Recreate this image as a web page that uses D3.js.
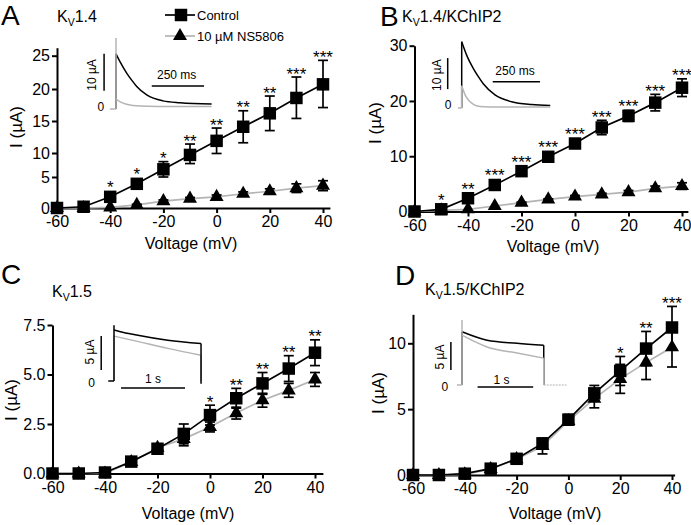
<!DOCTYPE html>
<html><head><meta charset="utf-8">
<script src="https://cdn.jsdelivr.net/npm/d3@7"></script>
<style>
body{margin:0;background:#fff}
svg{display:block;background:#fff}
text{font-family:"Liberation Sans",Arial,Helvetica,sans-serif;fill:#000}
</style>
</head><body>
<svg id="chart" width="691" height="525"></svg>
<script>
// ---------------- data ----------------
const voltages = [-60, -50, -40, -30, -20, -10, 0, 10, 20, 30, 40];
const xTickValues = [-60, -40, -20, 0, 20, 40];
const seriesNames = ["Control", "10 \u00B5M NS5806"];

// Panel A : Kv1.4
const aControl    = [0, 0.2, 1.8, 3.9, 6.6, 9.6, 11.9, 14.1, 16.2, 18.6, 20.7];
const aControlErr = [0, 0.1, 0.4, 0.5, 1.6, 1.8, 2.0, 2.5, 2.7, 3.2, 3.6];
const aNS         = [0, 0, 0.1, 0.5, 1.1, 1.5, 1.8, 2.3, 2.7, 3.2, 3.6];
const aNSErr      = [0, 0, 0, 0.1, 0.2, 0.2, 0.3, 0.3, 0.4, 0.7, 0.8];
const aStars      = ["", "", "*", "*", "*", "**", "**", "**", "**", "***", "***"];
const aYTicks     = [0, 5, 10, 15, 20, 25];

// Panel B : Kv1.4/KChIP2
const bControl    = [0, 0.4, 2.4, 4.8, 7.3, 9.9, 12.3, 15.2, 17.3, 19.7, 22.4];
const bControlErr = [0, 0.2, 0.4, 0.5, 0.4, 0.5, 0.6, 1.3, 1.0, 1.5, 1.6];
const bNS         = [0, 0.2, 0.4, 1.0, 1.6, 2.2, 2.7, 3.1, 3.5, 4.2, 4.6];
const bNSErr      = [0, 0, 0, 0, 0.1, 0.1, 0.2, 0.2, 0.3, 0.4, 0.6];
const bStars      = ["", "*", "**", "***", "***", "***", "***", "***", "***", "***", "***"];
const bYTicks     = [0, 10, 20, 30];

// Panel C : Kv1.5
const cControl    = [0, 0, 0.05, 0.6, 1.25, 2.0, 2.95, 3.8, 4.55, 5.3, 6.1];
const cControlErr = [0, 0, 0.1, 0.1, 0.2, 0.5, 0.5, 0.5, 0.55, 0.65, 0.65];
const cNS         = [0, 0, 0, 0.58, 1.3, 1.75, 2.35, 3.05, 3.7, 4.2, 4.75];
const cNSErr      = [0, 0, 0, 0.1, 0.15, 0.35, 0.25, 0.3, 0.35, 0.35, 0.35];
const cStars      = ["", "", "", "", "", "", "*", "**", "**", "**", "**"];
const cYTicks     = [0, 2.5, 5, 7.5];

// Panel D : Kv1.5/KChIP2
const dControl    = [0, 0, 0.1, 0.48, 1.23, 2.4, 4.2, 6.2, 7.9, 9.6, 11.2];
const dControlErr = [0, 0, 0.1, 0.1, 0.2, 0.3, 0.4, 0.6, 1.1, 1.3, 1.6];
const dNS         = [0, 0, 0.05, 0.45, 1.2, 2.2, 4.1, 5.8, 7.3, 8.55, 9.7];
const dNSErr      = [0, 0, 0, 0.1, 0.2, 0.6, 0.3, 0.7, 1.1, 1.3, 1.5];
const dStars      = ["", "", "", "", "", "", "", "", "*", "**", "***"];
const dYTicks     = [0, 5, 10];

// Inset traces (time, current in uA)
const insetABlackT = [0, 19, 51, 75, 99, 147, 225, 306, 457];
const insetABlackI = [14.9, 12.8, 9.7, 7.8, 6.1, 3.8, 2.2, 1.7, 1.35];
const insetAGrayT  = [0, 20, 50, 115, 200, 457];
const insetAGrayI  = [2.7, 1.9, 1.3, 0.8, 0.7, 0.7];

const insetBBlackT = [0, 30, 61, 88, 114, 176, 264, 370, 468];
const insetBBlackI = [21.4, 16.5, 12.8, 10.1, 7.8, 4.2, 2.0, 1.1, 0.8];
const insetBGrayT  = [0, 20, 44, 97, 200, 468];
const insetBGrayI  = [7.2, 4.0, 2.0, 0.5, 0.3, 0.3];

const insetCBlackT = [0, 0.1, 0.33, 0.84, 1.36];
const insetCBlackI = [7.5, 7.25, 6.8, 6.0, 5.5];
const insetCGrayT  = [0, 0.33, 0.84, 1.36];
const insetCGrayI  = [6.6, 5.9, 4.8, 3.8];

const insetDBlackT = [0, 0.45, 0.99, 1.47];
const insetDBlackI = [9.5, 8.0, 7.45, 7.1];
const insetDGrayT  = [0, 0.45, 0.99, 1.47];
const insetDGrayI  = [8.9, 6.8, 5.7, 4.8];

// ---------------- drawing ----------------
const FONT = '"Liberation Sans", Arial, Helvetica, sans-serif';
const GRAY = "#b4b4b4";
const svg = d3.select("#chart");
svg.append("rect").attr("width", 691).attr("height", 525).attr("fill", "#fff");

const sqSym = d3.symbol().type(d3.symbolSquare).size(156);
const triSym = d3.symbol().type(d3.symbolTriangle).size(85);

function title(g, x, y, main, rest) {
  const t = g.append("text").attr("x", x).attr("y", y).attr("font-size", 16);
  t.append("tspan").text(main);
  t.append("tspan").attr("font-size", 10.5).attr("dy", 4).text("V");
  t.append("tspan").attr("dy", -4).text(rest);
}

function panel(cfg) {
  const g = svg.append("g");
  const x = d3.scaleLinear().domain(cfg.xDomain).range(cfg.xRange);
  const y = d3.scaleLinear().domain(cfg.yDomain).range(cfg.yRange);

  g.append("text").attr("x", cfg.letterPos[0]).attr("y", cfg.letterPos[1])
    .attr("font-size", 28).text(cfg.letter);
  title(g, cfg.titlePos[0], cfg.titlePos[1], "K", cfg.titleRest);

  const xa = g.append("g").attr("transform", `translate(0,${y(0)})`)
    .call(d3.axisBottom(x).tickValues(xTickValues).tickFormat(d => String(d))
      .tickSize(5).tickSizeOuter(0).tickPadding(3));
  const ya = g.append("g").attr("transform", `translate(${x(-60)},0)`)
    .call(d3.axisLeft(y).tickValues(cfg.yTicks).tickFormat(cfg.yFormat)
      .tickSize(5).tickSizeOuter(0).tickPadding(2));
  [xa, ya].forEach(a => {
    a.attr("font-size", null).attr("font-family", null);
    a.selectAll("text").attr("font-size", 16).attr("font-family", FONT).attr("fill", "#000");
    a.selectAll("path,line").attr("stroke", "#000").attr("stroke-width", 2);
  });

  g.append("text").attr("x", cfg.xLabelPos[0]).attr("y", cfg.xLabelPos[1])
    .attr("text-anchor", "middle").attr("font-size", 16).text("Voltage (mV)");
  g.append("text").attr("transform", `translate(${cfg.yLabelPos[0]},${cfg.yLabelPos[1]}) rotate(-90)`)
    .attr("text-anchor", "middle").attr("dy", "0.35em").attr("font-size", 17).text("I (\u00B5A)");

  const ctrl = voltages.map((v, i) => ({v, val: cfg.control[i], err: cfg.controlErr[i], star: cfg.stars[i]}));
  const ns = voltages.map((v, i) => ({v, val: cfg.ns[i], err: cfg.nsErr[i]}));
  const line = d3.line().x(d => x(d.v)).y(d => y(d.val));

  g.append("path").datum(ns).attr("d", line).attr("fill", "none")
    .attr("stroke", GRAY).attr("stroke-width", 1.7);
  g.append("path").datum(ctrl).attr("d", line).attr("fill", "none")
    .attr("stroke", "#000").attr("stroke-width", 1.7);

  function errBars(data) {
    const eg = g.append("g").attr("stroke", "#000").attr("stroke-width", 1.7);
    data.filter(d => d.err > 0).forEach(d => {
      const cx = x(d.v), y1 = y(d.val + d.err), y2 = y(d.val - d.err);
      eg.append("line").attr("x1", cx).attr("x2", cx).attr("y1", y1).attr("y2", y2);
      eg.append("line").attr("x1", cx - 5).attr("x2", cx + 5).attr("y1", y1).attr("y2", y1);
      eg.append("line").attr("x1", cx - 5).attr("x2", cx + 5).attr("y1", y2).attr("y2", y2);
    });
  }
  function markers(data, sym) {
    g.append("g").selectAll("path").data(data).join("path")
      .attr("transform", d => `translate(${x(d.v)},${y(d.val)})`)
      .attr("d", sym).attr("fill", "#000");
  }
  errBars(ns); errBars(ctrl);
  if (cfg.controlOnTop) { markers(ns, triSym); markers(ctrl, sqSym); }
  else { markers(ctrl, sqSym); markers(ns, triSym); }

  g.append("g").selectAll("text").data(ctrl.filter(d => d.star)).join("text")
    .attr("x", d => x(d.v))
    .attr("y", d => Math.min(y(d.val + d.err), y(d.val) - 6) + 2.5)
    .attr("text-anchor", "middle").attr("font-size", 17).text(d => d.star);

  return {g, x, y};
}

function inset(cfg) {
  const g = svg.append("g");
  const x = d3.scaleLinear().domain([0, 1]).range([cfg.x0, cfg.x0 + cfg.kx]);
  const y = d3.scaleLinear().domain([0, 1]).range([cfg.y0, cfg.y0 - cfg.ky]);
  const lineGen = d3.line().curve(d3.curveMonotoneX).x(d => x(d[0])).y(d => y(d[1]));
  cfg.traces.forEach(tr => {
    const col = tr.color, sw = 1.5;
    const pts = tr.t.map((t, i) => [t, tr.i[i]]);
    if (tr.pre !== undefined)
      g.append("line").attr("x1", x(tr.pre)).attr("x2", x(0)).attr("y1", y(0)).attr("y2", y(0))
        .attr("stroke", col).attr("stroke-width", sw);
    g.append("line").attr("x1", x(0)).attr("x2", x(0)).attr("y1", y(0)).attr("y2", y(tr.spike))
      .attr("stroke", col).attr("stroke-width", sw);
    g.append("path").datum(pts).attr("d", lineGen).attr("fill", "none")
      .attr("stroke", col).attr("stroke-width", sw);
    const last = pts[pts.length - 1];
    if (tr.drop !== undefined)
      g.append("line").attr("x1", x(last[0])).attr("x2", x(last[0])).attr("y1", y(last[1])).attr("y2", y(tr.drop))
        .attr("stroke", col).attr("stroke-width", sw);
    if (tr.post !== undefined)
      g.append("line").attr("x1", x(last[0])).attr("x2", x(tr.post)).attr("y1", y(0)).attr("y2", y(0))
        .attr("stroke", col).attr("stroke-width", 1.2).attr("stroke-dasharray", "2,1");
  });
  g.append("line").attr("x1", x(cfg.vBar.t)).attr("x2", x(cfg.vBar.t))
    .attr("y1", y(cfg.vBar.i[0])).attr("y2", y(cfg.vBar.i[1])).attr("stroke", "#000").attr("stroke-width", 1.5);
  g.append("line").attr("x1", x(cfg.hBar.t[0])).attr("x2", x(cfg.hBar.t[1]))
    .attr("y1", y(cfg.hBar.i)).attr("y2", y(cfg.hBar.i)).attr("stroke", "#000").attr("stroke-width", 1.5);
  g.append("text").attr("transform", `translate(${x(cfg.vLabel.t)},${y(cfg.vLabel.i)}) rotate(-90)`)
    .attr("text-anchor", "middle").attr("dy", "0.35em").attr("font-size", 12).text(cfg.vLabel.text);
  g.append("text").attr("x", x(cfg.hLabel.t)).attr("y", y(cfg.hLabel.i))
    .attr("text-anchor", "middle").attr("font-size", 12).text(cfg.hLabel.text);
  g.append("text").attr("x", x(cfg.zero.t)).attr("y", y(cfg.zero.i))
    .attr("text-anchor", "middle").attr("dy", "0.35em").attr("font-size", 12).attr("fill", "#000").text("0");
}

// ---------------- panels ----------------
panel({
  letter: "A", letterPos: [1, 25], titlePos: [57, 22], titleRest: "1.4",
  xDomain: [-60, 42.6], xRange: [57, 57 + 102.6 * 2.66],
  yDomain: [0, 5, 10, 15, 20, 26.2], yRange: [208, 177, 153, 121, 89, 47.7],
  yTicks: aYTicks, yFormat: d => String(d),
  xLabelPos: [191, 249], yLabelPos: [16, 127],
  control: aControl, controlErr: aControlErr, ns: aNS, nsErr: aNSErr, stars: aStars,
  controlOnTop: false
});
panel({
  letter: "B", letterPos: [380, 26], titlePos: [402, 22], titleRest: "1.4/KChIP2",
  xDomain: [-60, 42.2], xRange: [414.5, 414.5 + 102.2 * 2.675],
  yDomain: [0, 30], yRange: [211.5, 45.7],
  yTicks: bYTicks, yFormat: d => String(d),
  xLabelPos: [553, 252], yLabelPos: [375, 123],
  control: bControl, controlErr: bControlErr, ns: bNS, nsErr: bNSErr, stars: bStars,
  controlOnTop: false
});
panel({
  letter: "C", letterPos: [1, 284], titlePos: [52, 297], titleRest: "1.5",
  xDomain: [-60, 43], xRange: [52.5, 52.5 + 103 * 2.625],
  yDomain: [0, 7.5], yRange: [473.5, 325],
  yTicks: cYTicks, yFormat: d3.format(".1f"),
  xLabelPos: [188, 519], yLabelPos: [11, 400],
  control: cControl, controlErr: cControlErr, ns: cNS, nsErr: cNSErr, stars: cStars,
  controlOnTop: true
});
panel({
  letter: "D", letterPos: [395, 285], titlePos: [425, 295], titleRest: "1.5/KChIP2",
  xDomain: [-60, 41], xRange: [413, 413 + 101 * 2.59],
  yDomain: [0, 12.2], yRange: [475, 475 - 12.2 * 13.17],
  yTicks: dYTicks, yFormat: d => String(d),
  xLabelPos: [555, 519], yLabelPos: [378, 393],
  control: dControl, controlErr: dControlErr, ns: dNS, nsErr: dNSErr, stars: dStars,
  controlOnTop: false
});

// legend (panel A)
const lg = svg.append("g");
[[15, "#000", sqSym, 181, seriesNames[0]], [36, GRAY, triSym, 180, seriesNames[1]]].forEach(([ly, col, sym, mx, label]) => {
  lg.append("line").attr("x1", 165).attr("x2", 195).attr("y1", ly).attr("y2", ly)
    .attr("stroke", col).attr("stroke-width", 1.7);
  lg.append("path").attr("transform", `translate(${mx},${ly})`).attr("d", sym).attr("fill", "#000");
  lg.append("text").attr("x", 197).attr("y", ly).attr("dy", "0.35em").attr("font-size", 13).text(label);
});

// ---------------- insets ----------------
inset({
  x0: 116, y0: 109, kx: 0.2092, ky: 3.7,
  traces: [
    {color: "#000", t: insetABlackT, i: insetABlackI, spike: 14.9},
    {color: GRAY, t: insetAGrayT, i: insetAGrayI, spike: 19.2, pre: -29}
  ],
  vBar: {t: -57, i: [4.9, 14.9]}, hBar: {t: [171, 421], i: 6.2},
  vLabel: {t: -117, i: 9.2, text: "10 \u00B5A"}, hLabel: {t: 290, i: 8.1, text: "250 ms"},
  zero: {t: -73, i: 0.5}
});
inset({
  x0: 461.7, y0: 108, kx: 0.1892, ky: 3.1,
  traces: [
    {color: "#000", t: insetBBlackT, i: insetBBlackI, spike: 21.4},
    {color: GRAY, t: insetBGrayT, i: insetBGrayI, spike: 7.2, pre: -20}
  ],
  vBar: {t: -74, i: [6.1, 16.1]}, hBar: {t: [164, 414], i: 8.5},
  vLabel: {t: -132, i: 10.6, text: "10 \u00B5A"}, hLabel: {t: 282, i: 10.6, text: "250 ms"},
  zero: {t: -72, i: 1.0}
});
inset({
  x0: 114, y0: 381, kx: 64, ky: 6.8,
  traces: [
    {color: GRAY, t: insetCGrayT, i: insetCGrayI, spike: 6.6, drop: 0},
    {color: "#000", t: insetCBlackT, i: insetCBlackI, spike: 8.2, pre: -0.09, drop: -0.4}
  ],
  vBar: {t: -0.2, i: [1.6, 6.6]}, hBar: {t: [0.11, 1.11], i: -1.03},
  vLabel: {t: -0.375, i: 4.26, text: "5 \u00B5A"}, hLabel: {t: 0.61, i: -0.3, text: "1 s"},
  zero: {t: -0.35, i: -0.3}
});
inset({
  x0: 462, y0: 385, kx: 55.6, ky: 5.6,
  traces: [
    {color: "#000", t: insetDBlackT, i: insetDBlackI, spike: 9.5, drop: 0},
    {color: GRAY, t: insetDGrayT, i: insetDGrayI, spike: 11.6, pre: -0.09, drop: 0, post: 1.88}
  ],
  vBar: {t: -0.2, i: [2.7, 7.7]}, hBar: {t: [0.28, 1.28], i: -0.36},
  vLabel: {t: -0.4, i: 5.0, text: "5 \u00B5A"}, hLabel: {t: 0.71, i: 0.23, text: "1 s"},
  zero: {t: -0.31, i: -0.36}
});
</script>
</body></html>
